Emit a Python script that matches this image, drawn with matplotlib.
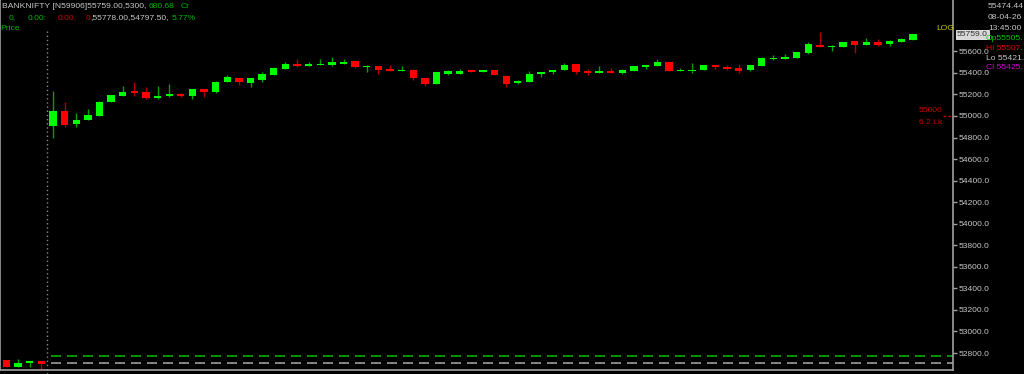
import matplotlib
matplotlib.use("Agg")
import matplotlib.pyplot as plt
from matplotlib.transforms import blended_transform_factory

plt.rcParams['font.family'] = ['Liberation Sans', 'DejaVu Sans']

W, H, DPI = 1024, 374, 100

# ── Data (5-min candles, BANKNIFTY) ───────────────────────────────────────────
opens = [54910, 55049, 54923, 54966, 55003, 55130, 55186, 55229, 55220, 55170,
         55183, 55201, 55183, 55251, 55220, 55318, 55350, 55303, 55334, 55380,
         55436, 55483, 55467, 55473, 55473, 55485, 55508, 55452, 55461, 55436,
         55418, 55430, 55355, 55297, 55393, 55393, 55424, 55412, 55424, 55374,
         55303, 55318, 55387, 55406, 55427, 55480, 55408, 55402, 55418, 55399,
         55418, 55458, 55464, 55498, 55418, 55418, 55430, 55473, 55458, 55443,
         55424, 55467, 55529, 55532, 55538, 55582, 55662, 55640, 55640, 55693,
         55662, 55687, 55666, 55690, 55705]
highs = [55235, 55133, 55028, 55065, 55139, 55195, 55281, 55318, 55266, 55281,
         55294, 55209, 55255, 55255, 55325, 55376, 55357, 55357, 55406, 55453,
         55501, 55529, 55501, 55526, 55550, 55526, 55510, 55473, 55464, 55476,
         55464, 55433, 55357, 55408, 55427, 55433, 55427, 55427, 55427, 55376,
         55334, 55421, 55408, 55427, 55489, 55483, 55433, 55467, 55448, 55433,
         55464, 55476, 55526, 55501, 55448, 55489, 55476, 55476, 55473, 55485,
         55476, 55545, 55566, 55578, 55594, 55687, 55778, 55656, 55690, 55696,
         55721, 55712, 55701, 55727, 55763]
lows = [54798, 54895, 54901, 54963, 55000, 55127, 55183, 55188, 55158, 55155,
        55179, 55176, 55158, 55179, 55218, 55312, 55288, 55272, 55318, 55376,
        55433, 55458, 55464, 55471, 55467, 55480, 55450, 55411, 55392, 55415,
        55415, 55334, 55281, 55294, 55378, 55390, 55404, 55408, 55376, 55267,
        55294, 55316, 55365, 55387, 55424, 55387, 55378, 55402, 55399, 55393,
        55415, 55439, 55461, 55418, 55418, 55397, 55427, 55436, 55427, 55402,
        55421, 55464, 55520, 55526, 55536, 55580, 55638, 55606, 55638, 55582,
        55659, 55652, 55652, 55687, 55702]
closes = [55046, 54916, 54963, 55009, 55133, 55192, 55226, 55216, 55170, 55186,
          55204, 55183, 55251, 55220, 55318, 55362, 55313, 55350, 55387, 55443,
          55483, 55464, 55485, 55485, 55501, 55504, 55452, 55467, 55430, 55418,
          55430, 55355, 55300, 55406, 55415, 55418, 55406, 55424, 55378, 55300,
          55325, 55393, 55406, 55424, 55473, 55406, 55402, 55415, 55402, 55430,
          55461, 55473, 55504, 55420, 55430, 55430, 55473, 55455, 55439, 55415,
          55473, 55536, 55541, 55550, 55591, 55668, 55640, 55652, 55687, 55662,
          55684, 55662, 55696, 55715, 55759]

# previous session's last candles
prev_opens = [52735, 52668, 52705, 52726]
prev_highs = [52740, 52742, 52728, 52728]
prev_lows = [52666, 52666, 52673, 52643]
prev_closes = [52668, 52705, 52726, 52701]

green_level = 52773
prev_close_level = 52705
oi_strike = 55000
oi_label = "6.2 Lk"
y_ticks = list(range(52800, 55601, 200))

header1 = "BANKNIFTY [N59906]55759.00,5300,"
header_turnover = "680.68"
info_lines = ["55474.44", "08-04-26", "13:45:00"]
ohlc_info = [("Op55505.", "#00c800"), ("Hi 55507.", "#e00000"),
             ("Lo 55421.", "#c8c8c8"), ("Cl 55425.", "#d000d0")]

# ── Style ─────────────────────────────────────────────────────────────────────
UP_BODY, UP_WICK = "#00ff00", "#00a000"
DN_BODY, DN_WICK = "#ff0000", "#b00000"
GRAY_TXT = "#c8c8c8"
GRID_GRAY = "#a0a0a0"
FS = 6.1

fig = plt.figure(figsize=(W / DPI, H / DPI), dpi=DPI, facecolor="black")
ax = fig.add_axes([0, 4 / H, 953 / W, 370 / H])
ax.set_facecolor("black")

# pixel calibration: x = 53 + 11.62*i, 55000 at y=116, 9.281 pts per px
ax.set_xlim(-53 / 11.62, (953 - 53) / 11.62)
ax.set_ylim(55000 - 254 * 9.281, 55000 + 116 * 9.281)


def candles(ax, xs, o, h, l, c):
    for x, oo, hh, ll, cc in zip(xs, o, h, l, c):
        up = cc >= oo
        body = UP_BODY if up else DN_BODY
        wick = UP_WICK if up else DN_WICK
        ax.vlines(x, ll, hh, color=wick, lw=1.0, zorder=2)
        lo, hi = min(oo, cc), max(oo, cc)
        ax.bar(x, max(hi - lo, 12), bottom=lo, width=0.63, color=body,
               linewidth=0, zorder=3)


candles(ax, range(len(opens)), opens, highs, lows, closes)
candles(ax, range(-len(prev_opens), 0), prev_opens, prev_highs, prev_lows, prev_closes)

xr = ax.get_xlim()[1]
ax.hlines(green_level, -0.2, xr, color="#00b000", lw=1.2, linestyles=(0, (6, 3.6)))
ax.hlines(prev_close_level, -0.2, xr, color="#9a9a9a", lw=1.2, linestyles=(0, (6, 3.6)))
ax.vlines(-0.52, ax.get_ylim()[0] - 40, 55790, color="#8a8a8a", lw=1.0,
          linestyles=(0, (1, 2)), clip_on=False, zorder=1)

# frame
ax.spines["top"].set_visible(False)
for s in ["left", "right", "bottom"]:
    ax.spines[s].set_color(GRID_GRAY)
    ax.spines[s].set_linewidth(1.2)

ax.set_xticks([])
ax.yaxis.tick_right()
ax.set_yticks(y_ticks)
ax.set_yticklabels([f"{v:.1f}" for v in y_ticks])
ax.tick_params(axis="y", colors=GRID_GRAY, labelcolor=GRAY_TXT, length=3,
               width=1, pad=1, labelsize=FS)

trans = blended_transform_factory(ax.transAxes, ax.transData)
ax.text(1.004, closes[-1], f"{closes[-1]:.1f}", transform=trans, ha="left",
        va="center", fontsize=FS, color="#303030", clip_on=False,
        bbox=dict(facecolor="#d8d8d8", edgecolor="#f4f4f4", pad=0.8, lw=0.6))

# OI marker
ax.plot([943 / 953, 1.0], [oi_strike, oi_strike], transform=trans,
        color="#c00000", lw=1, ls=(0, (2, 1.5)), clip_on=False)


def ftxt(xpx, ypx, s, color):
    fig.text(xpx / W, 1 - ypx / H, s, color=color, fontsize=FS,
             va="center", ha="left")


ftxt(919, 110, f"{oi_strike}", "#c00000")
ftxt(919, 122, oi_label, "#c00000")
ftxt(936, 28, "LOG", "#c8c800")

# header
G = "#00b400"
R = "#d00000"
ftxt(1.5, 6, header1, GRAY_TXT)
ftxt(149, 6, header_turnover, G)
ftxt(181, 6, "Cr", G)
ftxt(9, 18, "0,", G)
ftxt(28, 18, "0.00:", G)
ftxt(58, 18, "0.00,", R)
ftxt(86, 18, "0", R)
ftxt(90, 18, f",{max(highs):.2f},54797.50,", GRAY_TXT)
ftxt(172, 18, "5.77%", G)
ftxt(0, 28, "Price", G)

# right info panel
for k, s in enumerate(info_lines):
    ftxt(988, 7 + k * 10.5, s, GRAY_TXT)
for k, (s, col) in enumerate(ohlc_info):
    ftxt(986, 39 + k * 9.5, s, col)

fig.savefig("out.png", dpi=DPI, facecolor="black")
